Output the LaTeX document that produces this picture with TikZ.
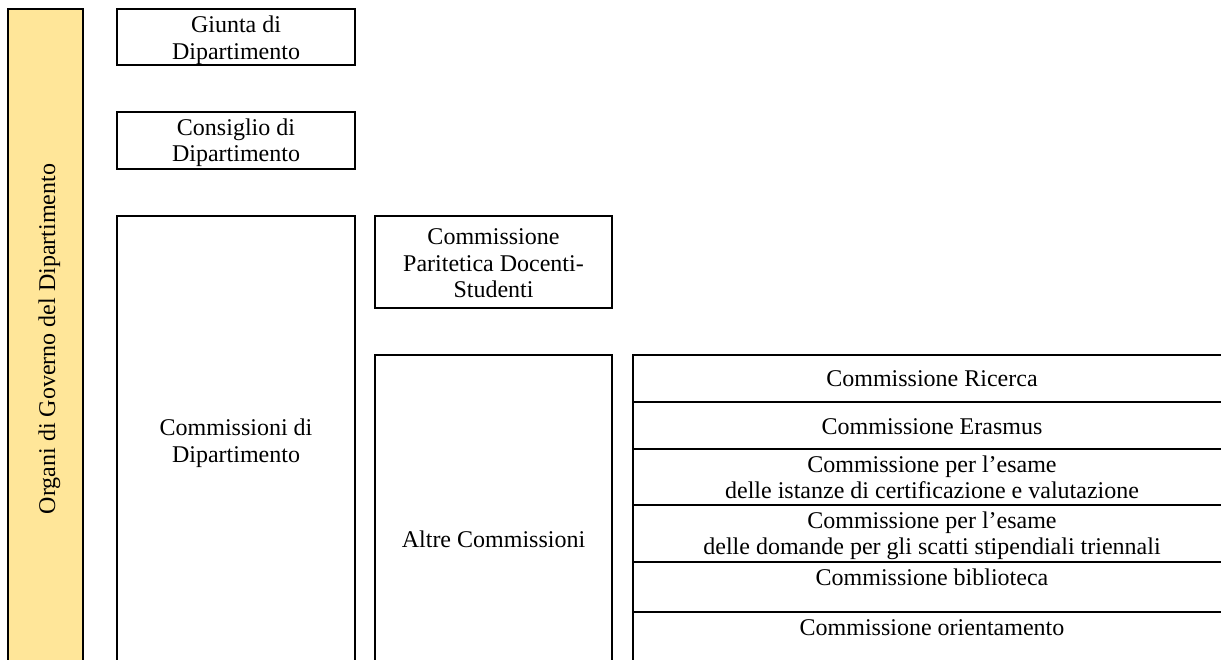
\documentclass[tikz,border=0pt]{standalone}
\usepackage{fontspec}
\setmainfont{Liberation Serif}
\definecolor{govyellow}{RGB}{255,230,153}
\newcommand\lnstrut{\rule[-6pt]{0pt}{24pt}}
\begin{document}
\begin{tikzpicture}[x=1pt,y=-1pt,
  boxline/.style={draw=black, line width=2pt, inner sep=0pt, rectangle},
  lbl/.style={inner sep=0pt, align=center, font=\fontsize{24}{26.7}\selectfont},
]
\useasboundingbox (0,0) rectangle (1221,659);
\clip (0,0) rectangle (1221,659);

% left vertical band
\node[boxline, fill=govyellow, minimum width=75pt, minimum height=660pt] (organi) at (45.5,339) {};
\node[lbl, rotate=90] (organiT) at (49,339) {\lnstrut Organi di Governo del Dipartimento};

% first column
\node[boxline, minimum width=238pt, minimum height=56pt] (giunta) at (236,37) {};
\node[lbl] (giuntaT) at (236,39.7) {\lnstrut Giunta di\\\lnstrut Dipartimento};

\node[boxline, minimum width=238pt, minimum height=57pt] (consiglio) at (236,140.5) {};
\node[lbl] (consiglioT) at (236,142.4) {\lnstrut Consiglio di\\\lnstrut Dipartimento};

\node[boxline, minimum width=238pt, minimum height=448pt] (commdip) at (236,440) {};
\node[lbl] (commdipT) at (236,443) {\lnstrut Commissioni di\\\lnstrut Dipartimento};

% second column
\node[boxline, minimum width=237pt, minimum height=91.5pt] (paritetica) at (493.5,261.75) {};
\node[lbl] (pariteticaT) at (493.5,265) {\lnstrut Commissione\\\lnstrut Paritetica Docenti-\\\lnstrut Studenti};

\node[boxline, minimum width=237pt, minimum height=364pt] (altre) at (493.5,537) {};
\node[lbl] (altreT) at (493.5,541) {\lnstrut Altre Commissioni};

% table of other commissions
\node[boxline, minimum width=598pt, minimum height=47pt] (r1) at (932,378.5) {};
\node[boxline, minimum width=598pt, minimum height=47pt] (r2) at (932,425.5) {};
\node[boxline, minimum width=598pt, minimum height=56pt] (r3) at (932,477) {};
\node[boxline, minimum width=598pt, minimum height=57pt] (r4) at (932,533.5) {};
\node[boxline, minimum width=598pt, minimum height=50pt] (r5) at (932,587) {};
\node[boxline, minimum width=598pt, minimum height=88pt] (r6) at (932,656) {};

\node[lbl] (r1T) at (932,380.7) {\lnstrut Commissione Ricerca};
\node[lbl] (r2T) at (932,428) {\lnstrut Commissione Erasmus};
\node[lbl] (r3T) at (932,479.4) {\lnstrut Commissione per l’esame\\\lnstrut delle istanze di certificazione e valutazione};
\node[lbl] (r4T) at (932,535.5) {\lnstrut Commissione per l’esame\\\lnstrut delle domande per gli scatti stipendiali triennali};
\node[lbl] (r5T) at (932,579) {\lnstrut Commissione biblioteca};
\node[lbl] (r6T) at (932,629) {\lnstrut Commissione orientamento};
\end{tikzpicture}
\end{document}
